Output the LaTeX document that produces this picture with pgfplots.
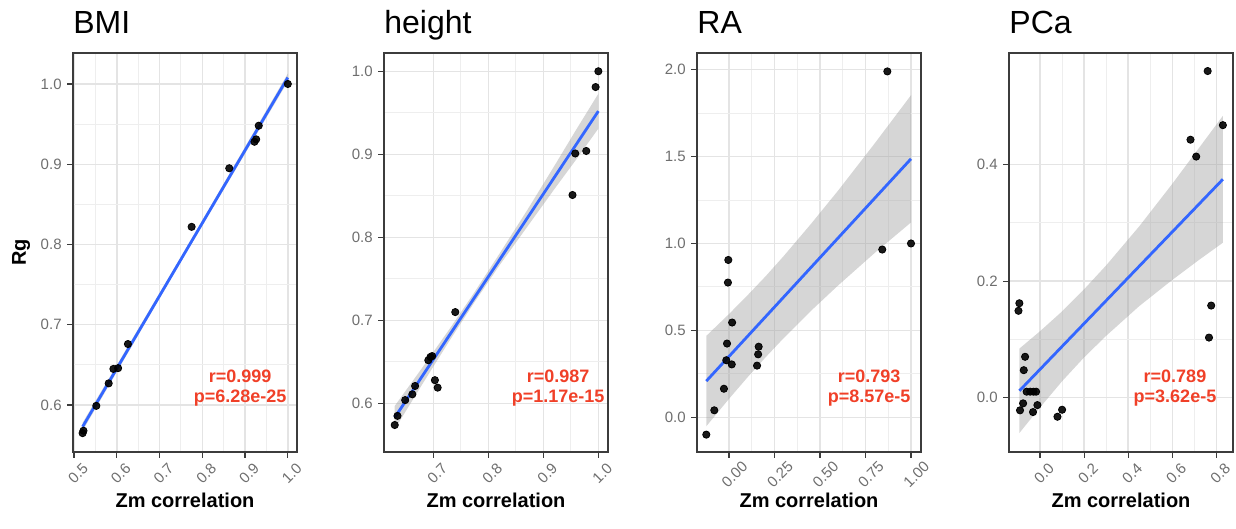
\documentclass[border=0pt]{standalone}
\usepackage{pgfplots}
\pgfplotsset{compat=1.18}
\usepackage{fontspec}
\setmainfont{Liberation Sans}

\definecolor{fitblue}{RGB}{51,102,255}
\definecolor{bandgrey}{RGB}{153,153,153}
\definecolor{gridgrey}{RGB}{228,228,228}
\definecolor{minorgrey}{RGB}{238,238,238}
\definecolor{framegrey}{RGB}{60,60,60}
\definecolor{ticktext}{RGB}{110,110,110}
\definecolor{statred}{RGB}{240,64,40}

\tikzset{stat/.style={text=statred, font=\fontsize{9}{10}\selectfont\bfseries, align=center}}

\pgfplotsset{
  panel/.style={
    scale only axis, width=112pt, height=199.5pt, anchor=south west,
    axis line style={draw=framegrey, line width=0.6pt},
    grid=both, minor tick num=1,
    major grid style={draw=gridgrey, line width=0.7pt},
    minor grid style={draw=minorgrey, line width=0.45pt},
    tick align=outside, major tick length=3pt, minor tick length=0pt,
    every tick/.style={draw=framegrey, line width=0.6pt},
    xtick pos=bottom, ytick pos=left,
    ticklabel style={font=\fontsize{7.5}{8}\selectfont, text=ticktext},
    /pgf/number format/assume math mode=true,
    /pgf/number format/fixed, /pgf/number format/fixed zerofill,
    /pgf/number format/precision=1,
    scaled ticks=false,
    xticklabel style={xshift=2pt, yshift=-7.5pt, rotate=45, anchor=center},
    yticklabel style={anchor=east, inner sep=0pt, xshift=-2.5pt},
    xlabel={Zm correlation},
    xlabel style={at={(axis description cs:0.5,0)}, anchor=center, yshift=-24pt,
      font=\fontsize{10}{12}\selectfont\bfseries},
    title style={at={(axis description cs:0,1)}, anchor=base west, inner sep=0pt,
      yshift=3.5pt, font=\fontsize{16}{18}\selectfont},
  },
  dots/.style={only marks, mark=*, mark size=1.8pt, draw=none, fill=black, fill opacity=0.9},
  band/.style={fill=bandgrey, fill opacity=0.4, draw=none},
  fit/.style={color=fitblue, line width=1.4pt},
}

\begin{document}
\begin{tikzpicture}
\useasboundingbox (0,0) rectangle (618pt,264.5pt);

% ---------------- BMI ----------------
\begin{axis}[panel, at={(36.5pt,38.5pt)},
  title={BMI},
  xmin=0.4975, xmax=1.0215, ymin=0.5415, ymax=1.0386,
  xtick={0.5,0.6,0.7,0.8,0.9,1.0},
  ytick={0.6,0.7,0.8,0.9,1.0},
  ylabel={Rg},
  ylabel style={at={(axis description cs:-0.232,0.5)}, anchor=center,
    font=\fontsize{10}{12}\selectfont\bfseries},
]
\addplot[band] coordinates {
  (0.52,0.578) (0.76,0.7936) (1.0,1.013)
  (1.0,1.003) (0.76,0.7876) (0.52,0.568)} -- cycle;
\addplot[fit] coordinates {(0.52,0.573) (1.0,1.008)};
\addplot[dots] coordinates {
  (0.520,0.565) (0.522,0.568) (0.552,0.599) (0.581,0.627) (0.592,0.645)
  (0.603,0.646) (0.626,0.676) (0.775,0.822) (0.863,0.895) (0.922,0.928)
  (0.926,0.931) (0.932,0.948) (1.000,1.000)};
\node[stat] at (rel axis cs:0.746,0.16) {r=0.999\\p=6.28e-25};
\end{axis}

% ---------------- height ----------------
\begin{axis}[panel, at={(192pt,38.5pt)},
  title={height},
  xmin=0.6105, xmax=1.0175, ymin=0.5415, ymax=1.022,
  xtick={0.7,0.8,0.9,1.0},
  ytick={0.6,0.7,0.8,0.9,1.0},
]
\addplot[band] coordinates {
  (0.63,0.597) (0.68,0.643) (0.73,0.690) (0.773,0.732) (0.82,0.780)
  (0.87,0.832) (0.92,0.886) (0.96,0.930) (1.0,0.973)
  (1.0,0.931) (0.96,0.894) (0.92,0.858) (0.87,0.812) (0.82,0.766)
  (0.773,0.720) (0.73,0.676) (0.68,0.623) (0.63,0.569)} -- cycle;
\addplot[fit] coordinates {(0.630,0.583) (1.0,0.952)};
\addplot[dots] coordinates {
  (0.630,0.574) (0.635,0.585) (0.649,0.604) (0.662,0.611) (0.667,0.621)
  (0.691,0.652) (0.695,0.656) (0.698,0.657) (0.703,0.628) (0.708,0.619)
  (0.740,0.710) (0.953,0.851) (0.958,0.901) (0.978,0.904) (0.995,0.981)
  (1.000,1.000)};
\node[stat] at (rel axis cs:0.777,0.16) {r=0.987\\p=1.17e-15};
\end{axis}

% ---------------- RA ----------------
\begin{axis}[panel, at={(348.5pt,38.5pt)},
  title={RA},
  xmin=-0.176, xmax=1.055, ymin=-0.200, ymax=2.096,
  xtick={0,0.25,0.5,0.75,1.0},
  ytick={0,0.5,1.0,1.5,2.0},
  xticklabel style={/pgf/number format/precision=2, yshift=-1pt},
]
\addplot[band] coordinates {
  (-0.125,0.468) (0,0.594) (0.1,0.700) (0.2,0.810) (0.3,0.927)
  (0.45,1.112) (0.6,1.305) (0.8,1.575) (1.0,1.853)
  (1.0,1.121) (0.8,0.945) (0.6,0.759) (0.45,0.612) (0.3,0.455)
  (0.2,0.344) (0.1,0.228) (0,0.106) (-0.125,-0.052)} -- cycle;
\addplot[fit] coordinates {(-0.125,0.208) (1.0,1.487)};
\addplot[dots] coordinates {
  (-0.125,-0.100) (-0.081,0.040) (-0.028,0.164) (-0.011,0.424)
  (-0.004,0.905) (-0.006,0.775) (-0.015,0.328) (0.017,0.545)
  (0.015,0.304) (0.154,0.297) (0.160,0.362) (0.163,0.406)
  (0.842,0.965) (0.870,1.990) (1.000,1.000)};
\node[stat] at (rel axis cs:0.768,0.16) {r=0.793\\p=8.57e-5};
\end{axis}

% ---------------- PCa ----------------
\begin{axis}[panel, at={(504.5pt,38.5pt)},
  title={PCa},
  xmin=-0.141, xmax=0.876, ymin=-0.0936, ymax=0.592,
  xtick={0,0.2,0.4,0.6,0.8},
  ytick={0,0.2,0.4},
]
\addplot[band] coordinates {
  (-0.094,0.084) (0,0.114) (0.1,0.148) (0.2,0.186) (0.3,0.227)
  (0.45,0.294) (0.6,0.367) (0.72,0.428) (0.83,0.484)
  (0.83,0.266) (0.72,0.236) (0.6,0.202) (0.45,0.157) (0.3,0.106)
  (0.2,0.069) (0.1,0.028) (0,-0.017) (-0.094,-0.061)} -- cycle;
\addplot[fit] coordinates {(-0.094,0.0115) (0.830,0.375)};
\addplot[dots] coordinates {
  (-0.094,0.162) (-0.098,0.149) (-0.068,0.070) (-0.074,0.047)
  (-0.091,-0.022) (-0.077,-0.010) (-0.061,0.010) (-0.045,0.010)
  (-0.030,0.010) (-0.018,0.010) (-0.032,-0.025) (-0.012,-0.013)
  (0.079,-0.033) (0.100,-0.021) (0.683,0.443) (0.709,0.414)
  (0.761,0.561) (0.767,0.103) (0.777,0.158) (0.830,0.468)};
\node[stat] at (rel axis cs:0.741,0.16) {r=0.789\\p=3.62e-5};
\end{axis}
\end{tikzpicture}
\end{document}
